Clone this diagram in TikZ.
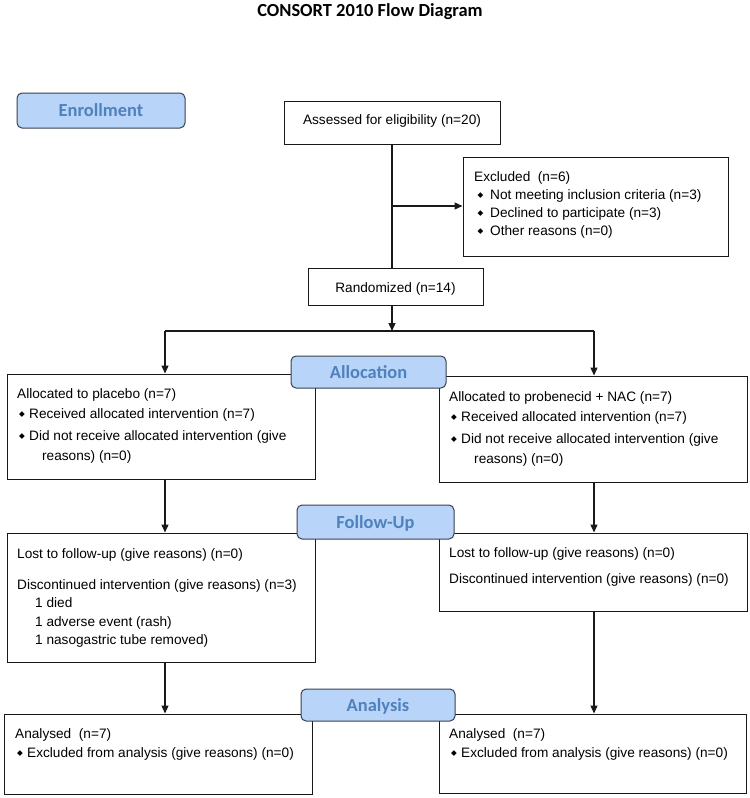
\documentclass[tikz,border=0pt]{standalone}
\usepackage{fontspec}
\setmainfont{Liberation Sans}
\newfontfamily\calib{Carlito}
\newfontfamily\djv{DejaVu Sans}
\usetikzlibrary{arrows.meta,fit}
\definecolor{lblfill}{RGB}{184,212,248}
\definecolor{lbltext}{RGB}{79,129,189}
\definecolor{lbldraw}{RGB}{55,65,80}
\definecolor{ink}{RGB}{25,25,25}
\newcommand\bul[1][12bp]{\hbox to #1{\hskip2bp\raisebox{1.6bp}{\djv\fontsize{7.5}{7.5}\selectfont ◆}\hss}}
\newcommand\vlines[2]{\vtop{\baselineskip=#1\lineskiplimit=-30pt\lineskip=0pt #2}}
\begin{document}
\begin{tikzpicture}[x=1bp,y=-1bp,
  box/.style={draw=ink, line width=1bp, inner sep=0pt},
  lbl/.style={draw=lbldraw, fill=lblfill, rounded corners=5bp, line width=1bp, inner sep=0pt},
  lbltxt/.style={text=lbltext, font=\calib\bfseries\fontsize{18.5}{20}\selectfont,
    text height=12bp, text depth=0bp, inner sep=0pt, anchor=center},
  txt/.style={inner sep=0pt, anchor=base west, font=\fontsize{13.7}{16}\selectfont},
  arr/.style={draw=ink, line width=1.3bp, -{Triangle[length=8bp,width=7bp]}},
  ln/.style={draw=ink, line width=1.3bp}]
\useasboundingbox (0,0) rectangle (750,798);

% title
\node[font=\calib\bfseries\fontsize{18.5}{20}\selectfont, anchor=base, inner sep=0pt] (title) at (370,17) {CONSORT 2010 Flow Diagram};

% boxes
\node[box, fit={(284,101) (500,144)}] (assess) {};
\node[box, fit={(463,157) (728,256)}] (excl) {};
\node[box, fit={(308,268) (483,305)}] (rand) {};
\node[box, fit={(7,374) (315,479)}] (allocL) {};
\node[box, fit={(439,376) (747,482)}] (allocR) {};
\node[box, fit={(7,533) (315,662)}] (fuL) {};
\node[box, fit={(439,533) (747,611)}] (fuR) {};
\node[box, fit={(4,714) (312,794)}] (anL) {};
\node[box, fit={(439,714) (746,793)}] (anR) {};

% texts
\node[txt, anchor=base] (assessT) at (392,124) {Assessed for eligibility (n=20)};
\node[txt] (exclT) at (474,181) {\vlines{18bp}{%
  \hbox{Excluded\ \ (n=6)}%
  \hbox{\kern1.5bp\bul[14.5bp]Not meeting inclusion criteria (n=3)}%
  \hbox{\kern1.5bp\bul[14.5bp]Declined to participate (n=3)}%
  \hbox{\kern1.5bp\bul[14.5bp]Other reasons (n=0)}}};
\node[txt, anchor=base] (randT) at (395.5,292) {Randomized (n=14)};

\node[txt] (allocLT) at (17,398) {\vlines{20bp}{%
  \hbox{Allocated to placebo (n=7)}%
  \hbox{\bul Received allocated intervention (n=7)}%
  \vskip2bp
  \hbox{\bul Did not receive allocated intervention (give}%
  \hbox{\kern25bp reasons) (n=0)}}};
\node[txt] (allocRT) at (449,401) {\vlines{20bp}{%
  \hbox{Allocated to probenecid + NAC (n=7)}%
  \hbox{\bul Received allocated intervention (n=7)}%
  \vskip2bp
  \hbox{\bul Did not receive allocated intervention (give}%
  \hbox{\kern25bp reasons) (n=0)}}};

\node[txt] (fuLT) at (17,558) {\vlines{18.5bp}{%
  \hbox{Lost to follow-up (give reasons) (n=0)}%
  \vskip12.5bp
  \hbox{Discontinued intervention (give reasons) (n=3)}%
  \hbox{\kern18bp 1 died}%
  \hbox{\kern18bp 1 adverse event (rash)}%
  \hbox{\kern18bp 1 nasogastric tube removed)}}};
\node[txt] (fuRT) at (449,557) {\vlines{19bp}{%
  \hbox{Lost to follow-up (give reasons) (n=0)}%
  \vskip7bp
  \hbox{Discontinued intervention (give reasons) (n=0)}}};

\node[txt] (anLT) at (15,738) {\vlines{19bp}{%
  \hbox{Analysed\ \ (n=7)}%
  \hbox{\bul Excluded from analysis (give reasons) (n=0)}}};
\node[txt] (anRT) at (449,738) {\vlines{19bp}{%
  \hbox{Analysed\ \ (n=7)}%
  \hbox{\bul Excluded from analysis (give reasons) (n=0)}}};

% connectors
\coordinate (j) at (392,331);
\coordinate (br) at (392,206);
\coordinate (jl) at (165,331);
\coordinate (jr) at (594,331);
\draw[ln] (assess.south -| j) -- (rand.north -| j);
\draw[arr] (br) -- (br -| excl.west);
\draw[arr] (rand.south -| j) -- (j);
\draw[ln] (jl) -- (jr);
\draw[arr] (jl) -- (jl |- allocL.north);
\draw[arr] (jr) -- (jr |- allocR.north);
\draw[arr] (allocL.south -| jl) -- (fuL.north -| jl);
\draw[arr] (allocR.south -| jr) -- (fuR.north -| jr);
\draw[arr] (fuL.south -| jl) -- (anL.north -| jl);
\draw[arr] (fuR.south -| jr) -- (anR.north -| jr);

% stage labels
\node[lbl, fit={(17,93) (185,128)}] (enr) {};
\node[lbltxt] (enrT) at (enr.center) {Enrollment};
\node[lbl, fit={(291,356) (446,388)}] (allocLbl) {};
\node[lbltxt] (allocLblT) at (allocLbl.center) {Allocation};
\node[lbl, fit={(297,505) (454,539)}] (fuLbl) {};
\node[lbltxt] (fuLblT) at (fuLbl.center) {Follow-Up};
\node[lbl, fit={(301,689) (455,721)}] (anLbl) {};
\node[lbltxt] (anLblT) at (anLbl.center) {Analysis};
\end{tikzpicture}
\end{document}
